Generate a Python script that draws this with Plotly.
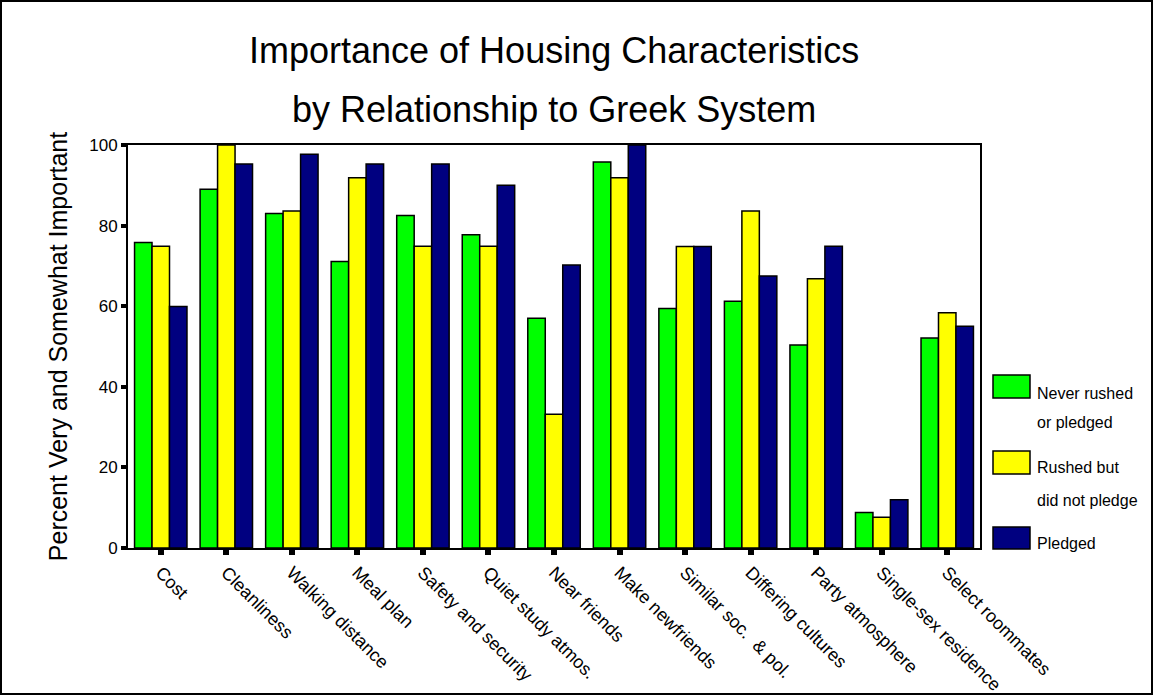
import plotly.graph_objects as go

categories = ["Cost", "Cleanliness", "Walking distance", "Meal plan", "Safety and security",
              "Quiet study atmos.", "Near friends", "Make newfriends", "Similar soc.  & pol.",
              "Differing cultures", "Party atmosphere", "Single-sex residence", "Select roommates"]
never = [75.8, 89.0, 83.0, 71.1, 82.5, 77.7, 57.0, 95.8, 59.4, 61.2, 50.4, 8.8, 52.1]
rushed = [74.9, 100.0, 83.6, 91.9, 74.9, 74.9, 33.2, 91.9, 74.8, 83.6, 66.8, 7.6, 58.4]
pledged = [59.9, 95.3, 97.7, 95.3, 95.3, 90.0, 70.2, 100.0, 74.8, 67.5, 74.9, 12.0, 55.0]
series_names = ["Never rushed<br>or pledged", "Rushed but<br>did not pledge", "Pledged"]
colors = ["#00FF00", "#FFFF00", "#000080"]
yticks = [0, 20, 40, 60, 80, 100]

FONT = "Liberation Sans, Arial, sans-serif"

fig = go.Figure()
for name, vals, col in zip(series_names, [never, rushed, pledged], colors):
    fig.add_trace(go.Bar(x=categories, y=vals, name=name, marker=dict(color=col, line=dict(color="black", width=1.5)),
                         showlegend=False))

# Plot area: x 128..980, y 145..548
W, H = 1154, 696
L, R, T, B = 128, 980, 145, 548
def px(x):
    return (x - L) / (R - L)
def py(y):
    return (B - y) / (B - T)

shapes = []
annotations = []
# outer border
shapes.append(dict(type="rect", xref="paper", yref="paper", x0=px(1), x1=px(1152), y0=py(694), y1=py(1),
                   line=dict(color="black", width=2), fillcolor="rgba(0,0,0,0)", layer="below"))
# legend
leg_boxes = [(375, 398), (451, 474), (527, 549)]
leg_text = [("Never rushed", 393), ("or pledged", 422), ("Rushed but", 467), ("did not pledge", 500), ("Pledged", 543)]
for (y0, y1), col in zip(leg_boxes, colors):
    shapes.append(dict(type="rect", xref="paper", yref="paper", x0=px(993), x1=px(1030), y0=py(y1), y1=py(y0),
                       line=dict(color="black", width=1.5), fillcolor=col))
for t, yy in leg_text:
    annotations.append(dict(text=t, xref="paper", yref="paper", x=px(1035), y=py(yy), xanchor="left", yanchor="middle",
                            showarrow=False, font=dict(family=FONT, size=16, color="black")))
# title
for t, yy in [("Importance of Housing Characteristics", 50), ("by Relationship to Greek System", 110)]:
    annotations.append(dict(text=t, xref="paper", yref="paper", x=px(554), y=py(yy), xanchor="center", yanchor="middle",
                            showarrow=False, font=dict(family=FONT, size=36, color="black")))

fig.update_layout(
    width=W, height=H,
    margin=dict(l=L, r=W - R, t=T, b=H - B, autoexpand=False),
    paper_bgcolor="white", plot_bgcolor="white",
    barmode="group", bargap=0.2, bargroupgap=0,
    font=dict(family=FONT, color="black"),
    shapes=shapes, annotations=annotations,
    xaxis=dict(showline=True, mirror=True, linecolor="black", linewidth=2, ticks="outside", ticklen=5,
               tickwidth=6, tickcolor="black", tickangle=45, tickfont=dict(family=FONT, size=18, color="black"),
               showgrid=False, automargin=False),
    yaxis=dict(range=[0, 100], tickvals=yticks, showline=True, mirror=True, linecolor="black", linewidth=2,
               ticks="outside", ticklen=5, tickwidth=4, tickcolor="black", showgrid=False, zeroline=False,
               tickfont=dict(family=FONT, size=17, color="black"), automargin=False,
               title=dict(text="Percent Very and Somewhat Important", font=dict(family=FONT, size=25, color="black"),
                          standoff=14)),
)
fig.write_html("out.html")
